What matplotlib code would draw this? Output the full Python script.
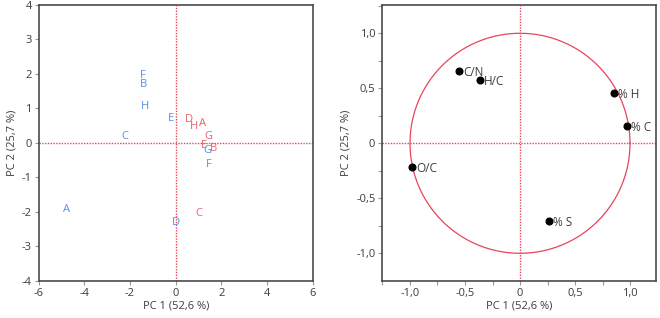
import matplotlib
matplotlib.use("Agg")
import matplotlib.pyplot as plt
import numpy as np
from matplotlib.ticker import MultipleLocator, FuncFormatter

plt.rcParams['font.family'] = ['Open Sans', 'DejaVu Sans']
plt.rcParams['axes.unicode_minus'] = False

# Scores (left panel)
blue_labels = ['F', 'B', 'H', 'E', 'C', 'G', 'A', 'D']
blue_x = [-1.46, -1.40, -1.33, -0.22, -2.23, 1.38, -4.76, 0.0]
blue_y = [1.95, 1.68, 1.05, 0.71, 0.19, -0.23, -1.94, -2.31]
red_labels = ['D', 'H', 'A', 'G', 'E', 'B', 'F', 'C']
red_x = [0.58, 0.80, 1.17, 1.43, 1.25, 1.66, 1.43, 1.03]
red_y = [0.69, 0.48, 0.56, 0.17, -0.07, -0.15, -0.62, -2.05]

# Loadings (right panel)
var_labels = ['C/N', 'H/C', '% H', '% C', 'O/C', '% S']
var_x = [-0.555, -0.364, 0.857, 0.973, -0.979, 0.261]
var_y = [0.66, 0.573, 0.455, 0.157, -0.215, -0.706]

xlabel = 'PC 1 (52,6 %)'
ylabel = 'PC 2 (25,7 %)'

BLUE = '#5b8ce6'
RED = '#e8606c'
LINE_RED = '#e8455a'
FRAME = '#4a4a4a'
TXT = '#3c3c3c'

fig = plt.figure(figsize=(6.6, 3.18), dpi=100)
ax1 = fig.add_axes([0.0586, 0.1173, 0.4152, 0.867])
ax2 = fig.add_axes([0.5792, 0.1173, 0.4147, 0.867])

def comma_fmt(v, pos):
    if abs(v) < 1e-9:
        return '0'
    return f'{v:.1f}'.replace('.', ',')

def int_fmt(v, pos):
    return f'{int(round(v))}'

for ax in (ax1, ax2):
    for sp in ax.spines.values():
        sp.set_color(FRAME)
        sp.set_linewidth(1.2)
    ax.tick_params(axis='both', which='both', direction='out', length=3,
                   width=0.8, color='#999999', labelsize=8, labelcolor=TXT, pad=2)
    ax.set_xlabel(xlabel, fontsize=8, color=TXT, labelpad=1)
    ax.set_ylabel(ylabel, fontsize=8, color=TXT, labelpad=3)

# Left
ax1.set_xlim(-6, 6)
ax1.set_ylim(-4, 4)
ax1.xaxis.set_major_locator(MultipleLocator(2))
ax1.yaxis.set_major_locator(MultipleLocator(1))
ax1.xaxis.set_major_formatter(FuncFormatter(int_fmt))
ax1.yaxis.set_major_formatter(FuncFormatter(int_fmt))
ax1.axvline(0, color=LINE_RED, ls=(0, (1, 1)), lw=1.0, zorder=1)
ax1.axhline(0, color=LINE_RED, ls=(0, (1, 1)), lw=1.0, zorder=1)
for l, x, y in zip(blue_labels, blue_x, blue_y):
    ax1.text(x, y, l, color=BLUE, fontsize=8, ha='center', va='center', zorder=3)
for l, x, y in zip(red_labels, red_x, red_y):
    ax1.text(x, y, l, color=RED, fontsize=8, ha='center', va='center', zorder=3)

# Right
ax2.set_xlim(-1.252, 1.236)
ax2.set_ylim(-1.249, 1.257)
ax2.xaxis.set_major_locator(MultipleLocator(0.5))
ax2.yaxis.set_major_locator(MultipleLocator(0.5))
ax2.xaxis.set_minor_locator(MultipleLocator(0.25))
ax2.yaxis.set_minor_locator(MultipleLocator(0.25))
ax2.xaxis.set_major_formatter(FuncFormatter(comma_fmt))
ax2.yaxis.set_major_formatter(FuncFormatter(comma_fmt))
ax2.axvline(0, color=LINE_RED, ls=(0, (1, 1)), lw=1.0, zorder=1)
ax2.axhline(0, color=LINE_RED, ls=(0, (1, 1)), lw=1.0, zorder=1)
t = np.linspace(0, 2 * np.pi, 400)
ax2.plot(np.cos(t), np.sin(t), color=LINE_RED, lw=0.9, zorder=2)
ax2.plot(var_x, var_y, 'o', color='black', ms=4.8, zorder=4)
for l, x, y in zip(var_labels, var_x, var_y):
    ax2.annotate(l, (x, y), xytext=(3, -1), textcoords='offset points',
                 fontsize=8.5, color=TXT, ha='left', va='center', zorder=5)

fig.savefig('out.png', dpi=100)
